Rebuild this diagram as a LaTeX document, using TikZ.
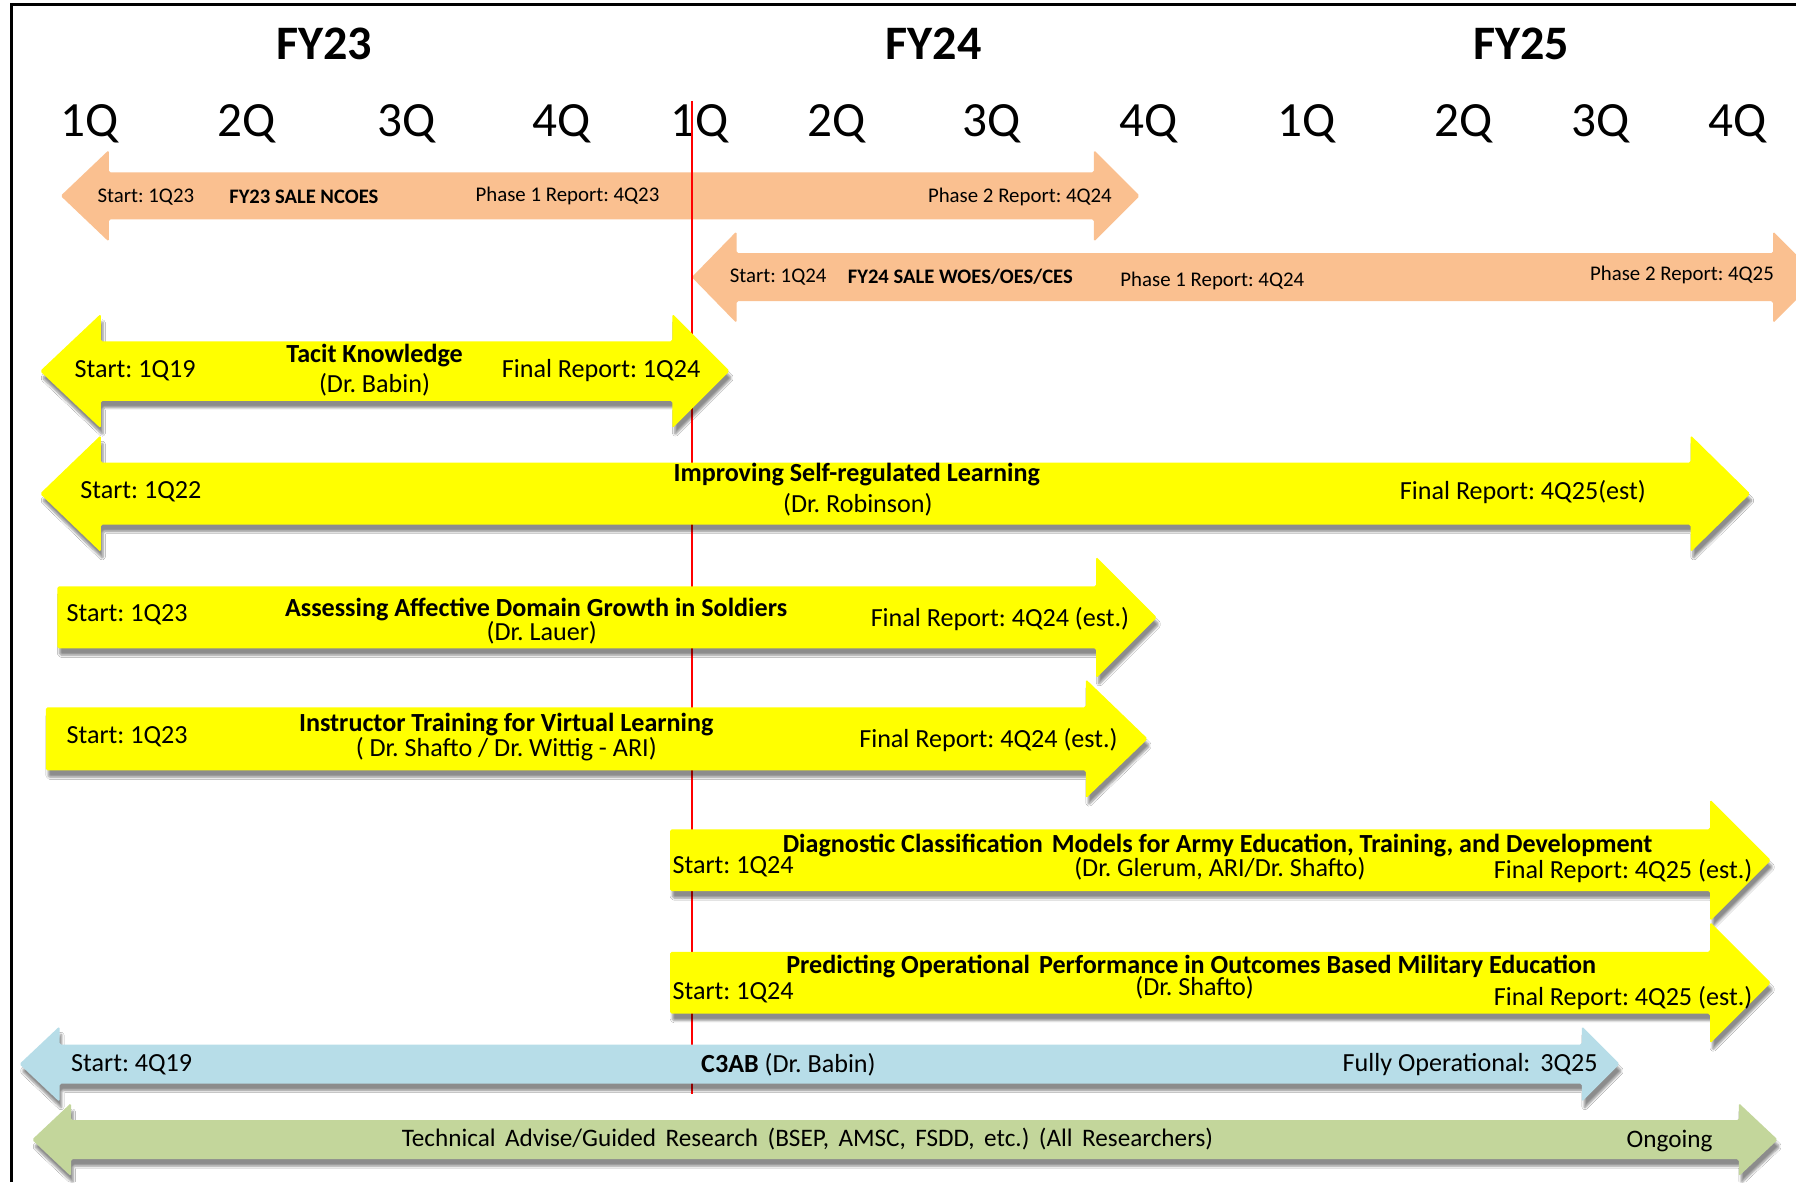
\documentclass[tikz,border=0pt]{standalone}
\usepackage{fontspec}
\setmainfont{Carlito}
\usetikzlibrary{shadows,shadows.blur}

\definecolor{salefill}{HTML}{FAC090}
\definecolor{projfill}{HTML}{FFFF00}
\definecolor{opsfill}{HTML}{B7DDE8}
\definecolor{advfill}{HTML}{C3D69B}
\definecolor{nowline}{HTML}{FF0000}

% double-headed block arrow: style, left tip, left base, right base, right tip, mid y, head half, shaft half
\newcommand\twoheads[8]{%
  \path[#1] (#2,#6) -- (#3,{#6-#7}) -- (#3,{#6-#8}) -- (#4,{#6-#8}) -- (#4,{#6-#7})
    -- (#5,#6) -- (#4,{#6+#7}) -- (#4,{#6+#8}) -- (#3,{#6+#8}) -- (#3,{#6+#7}) -- cycle;}
% single block arrow with a flat tail: style, tail x, head base, tip, mid y, head half, shaft half
\newcommand\onehead[7]{%
  \path[#1] (#2,{#5-#7}) -- (#3,{#5-#7}) -- (#3,{#5-#6}) -- (#4,#5)
    -- (#3,{#5+#6}) -- (#3,{#5+#7}) -- (#2,{#5+#7}) -- cycle;}

\tikzset{
  salearrow/.style={fill=salefill, rounded corners=1.5pt},
  shadowed/.style={blur shadow={shadow xshift=2pt, shadow yshift=-6pt, shadow blur steps=6, shadow opacity=45}},
  projarrow/.style={fill=projfill, rounded corners=1.5pt, shadowed},
  opsarrow/.style={fill=opsfill, rounded corners=1.5pt, shadowed},
  advarrow/.style={fill=advfill, rounded corners=1.5pt, shadowed},
  yearlbl/.style={font=\fontsize{42}{44}\selectfont\bfseries, inner sep=0pt, anchor=base},
  qlbl/.style={font=\fontsize{43}{45}\selectfont, inner sep=0pt, anchor=base},
  salelbl/.style={font=\fontsize{18.2}{20}\selectfont, inner sep=0pt, yshift=-1pt},
  salettl/.style={font=\fontsize{18}{20}\selectfont\bfseries, inner sep=0pt, yshift=-1pt},
  plbl/.style={font=\fontsize{22.8}{24}\selectfont, inner sep=0pt, yshift=-1.5pt},
  pttl/.style={font=\fontsize{22.8}{24}\selectfont\bfseries, inner sep=0pt, yshift=-1.5pt},
  glbl/.style={font=\fontsize{22}{24}\selectfont, inner sep=0pt, yshift=-1.5pt},
}

\begin{document}
\frenchspacing
\begin{tikzpicture}[x=1pt, y=-1pt]
\useasboundingbox (0,0) rectangle (1568,1032);
\clip (0,0) rectangle (1568,1032);
\fill[white] (0,0) rectangle (1568,1032);

% frame
\draw[line width=2.4pt] (10,1032) -- (10,4) -- (1570,4);

% fiscal years and quarters
\node[yearlbl] (fy23) at (283,52) {FY23};
\node[yearlbl] (fy24) at (815,52) {FY24};
\node[yearlbl] (fy25) at (1328,52) {FY25};
\foreach \qx/\qt [count=\i] in {78/1Q,215/2Q,355/3Q,490/4Q,611/1Q,730/2Q,866/3Q,1003/4Q,1141/1Q,1278/2Q,1397/3Q,1517/4Q}
  \node[qlbl] (q\i) at (\qx,119) {\qt};

% SALE studies
\twoheads{salearrow}{53}{95}{955}{995}{171}{40}{20.5}
\node[salelbl, anchor=west] (s1a) at (85,171) {Start: 1Q23};
\node[salettl, anchor=west] (s1b) at (200,171) {FY23 SALE NCOES};
\node[salelbl, anchor=west] (s1c) at (415,170) {Phase 1 Report: 4Q23};
\node[salelbl, anchor=west] (s1d) at (810,171) {Phase 2 Report: 4Q24};

\twoheads{salearrow}{604}{643}{1548}{1588}{242}{40}{21}
\node[salelbl, anchor=west] (s2a) at (637,241) {Start: 1Q24};
\node[salettl, anchor=west] (s2b) at (740,241) {FY24 SALE WOES/OES/CES};
\node[salelbl, anchor=west] (s2c) at (978,244) {Phase 1 Report: 4Q24};
\node[salelbl, anchor=west] (s2d) at (1388,239) {Phase 2 Report: 4Q25};

% today marker
\coordinate (nowtop) at (604,88);
\coordinate (nowbot) at (604,955);
\draw[nowline, line width=2pt] (nowtop) -- (nowbot);

% Tacit Knowledge
\twoheads{projarrow}{35}{88}{587}{637}{324}{50}{26}
\node[plbl, anchor=west] (p1a) at (65,322) {Start: 1Q19};
\node[pttl] (p1b) at (327,309) {Tacit Knowledge};
\node[plbl] (p1c) at (327,334) {(Dr. Babin)};
\node[plbl, anchor=west] (p1d) at (438,322) {Final Report: 1Q24};

% Self-regulated learning
\twoheads{projarrow}{35}{88}{1476}{1528}{431}{51}{27}
\node[plbl, anchor=west] (p2a) at (70,428) {Start: 1Q22};
\node[pttl] (p2b) at (748,413) {Improving Self-regulated Learning};
\node[plbl] (p2c) at (749,439) {(Dr. Robinson)};
\node[plbl, anchor=west] (p2d) at (1222,428) {Final Report: 4Q25(est)};

% Affective domain
\onehead{projarrow}{50}{957}{1010}{539}{53}{27}
\node[plbl, anchor=west] (p3a) at (58,535) {Start: 1Q23};
\node[pttl] (p3b) at (468,531) {Assessing Affective Domain Growth in Soldiers};
\node[plbl] (p3c) at (473,551) {(Dr. Lauer)};
\node[plbl, anchor=west] (p3d) at (760,539) {Final Report: 4Q24 (est.)};

% Instructor training
\onehead{projarrow}{40}{948}{1002}{645}{52}{27.5}
\node[plbl, anchor=west] (p4a) at (58,642) {Start: 1Q23};
\node[pttl] (p4b) at (442,631) {Instructor Training for Virtual Learning};
\node[plbl] (p4c) at (442,653) {( Dr. Shafto / Dr. Wittig - ARI)};
\node[plbl, anchor=west] (p4d) at (750,645) {Final Report: 4Q24 (est.)};

% Diagnostic classification models
\onehead{projarrow}{585}{1493}{1546}{751}{53}{27}
\node[pttl] (p5b) at (1063,737) {Diagnostic Classification\hspace{0.12em} Models for Army Education, Training, and Development};
\node[plbl, anchor=west] (p5a) at (587,755) {Start: 1Q24};
\node[plbl] (p5c) at (1065,757) {(Dr. Glerum, ARI/Dr. Shafto)};
\node[plbl, anchor=east] (p5d) at (1530,759) {Final Report: 4Q25 (est.)};

% Operational performance
\onehead{projarrow}{585}{1493}{1546}{858}{53}{27}
\node[pttl] (p6b) at (1040,842) {Predicting Operational\hspace{0.12em} Performance in Outcomes Based Military Education};
\node[plbl, anchor=west] (p6a) at (587,865) {Start: 1Q24};
\node[plbl] (p6c) at (1043,861) {(Dr. Shafto)};
\node[plbl, anchor=east] (p6d) at (1530,870) {Final Report: 4Q25 (est.)};

% C3AB
\twoheads{opsarrow}{17}{52}{1381}{1414}{929}{33}{17}
\node[plbl, anchor=west] (c1a) at (62,928) {Start: 4Q19};
\node[plbl, anchor=west] (c1b) at (612,928) {\textbf{C3AB} (Dr. Babin)};
\node[plbl, anchor=east] (c1c) at (1395,928) {Fully Operational:\hspace{0.15em} 3Q25};

% technical advice
\twoheads{advarrow}{28}{62}{1518}{1552}{995}{32}{17}
\node[glbl] (a1a) at (705,993) {Technical\hspace{0.15em} Advise/Guided\hspace{0.15em} Research\hspace{0.15em} (BSEP,\hspace{0.15em} AMSC,\hspace{0.15em} FSDD,\hspace{0.15em} etc.)\hspace{0.15em} (All\hspace{0.15em} Researchers)};
\node[glbl, anchor=west] (a1b) at (1420,995) {Ongoing};
\end{tikzpicture}
\end{document}
